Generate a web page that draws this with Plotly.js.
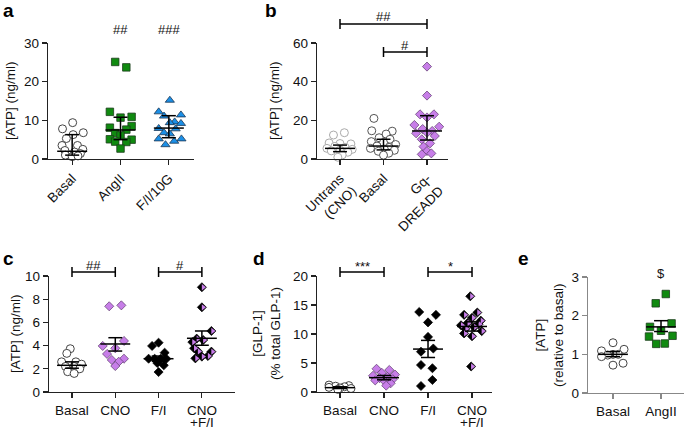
<!DOCTYPE html>
<html><head><meta charset="utf-8">
<script src="https://cdn.plot.ly/plotly-3.0.1.min.js"></script>
<style>body{margin:0;background:#fff}#chart{width:685px;height:431px}</style>
</head><body><div id="chart"></div>
<script>
// ---------- Panel a ----------
const aCats = ['Basal', 'AngII', 'F/I/10G'];
const aBasal = [9.4, 7.8, 6.8, 6.3, 5.3, 3.5, 3.5, 2.5, 2.2, 1.8, 1.4, 1.0, 0.6, 0.8];
const aBasalJit = [0.01, -0.2, 0.23, 0.02, -0.12, -0.21, 0.11, 0.22, -0.15, 0.05, 0.17, -0.14, 0.0, 0.12];
const aAngII = [25.1, 23.7, 12.2, 10.9, 10.7, 8.5, 8.1, 7.6, 6.7, 6.1, 5.1, 5.0, 4.5, 4.4, 2.7];
const aAngIIJit = [-0.11, 0.12, -0.22, 0.23, 0.0, 0.23, -0.22, 0.12, -0.11, 0.0, -0.22, 0.23, -0.11, 0.12, 0.0];
const aFI10G = [15.2, 12.2, 11.4, 11.1, 9.6, 9.4, 9.2, 7.9, 7.8, 6.8, 6.5, 5.2, 5.2, 4.6, 3.7];
const aFI10GJit = [0.02, -0.21, 0.25, -0.1, 0.12, 0.02, 0.25, -0.21, 0.14, -0.1, 0.02, -0.21, 0.26, 0.11, -0.07];
const aMid = [2.0, 7.5, 8.0];
const aHi = [6.3, 10.8, 11.2];
const aLo = [1.0, 5.0, 5.5];

// ---------- Panel b ----------
const bCats = ['Untrans<br>(CNO)', 'Basal', 'Gq-<br>DREADD'];
const bUntrans = [13.6, 12.4, 8.3, 8.0, 7.8, 6.5, 6.0, 5.5, 5.0, 4.6, 4.2, 3.5, 2.1, 0.9];
const bUntransJit = [0.1, -0.15, -0.25, 0.0, 0.25, -0.12, 0.12, -0.3, 0.28, 0.0, -0.2, 0.18, 0.05, -0.05];
const bBasal = [21.0, 14.6, 14.4, 12.9, 11.0, 10.2, 9.0, 8.5, 7.5, 6.7, 6.0, 5.5, 5.0, 4.5, 4.0, 3.0, 2.0];
const bBasalJit = [-0.22, -0.27, 0.2, 0.06, -0.1, 0.15, -0.28, 0.0, 0.28, -0.15, 0.13, -0.3, 0.02, 0.25, -0.12, 0.12, 0.0];
const bGq = [47.8, 32.8, 23.1, 23.1, 21.5, 17.6, 16.7, 15.5, 14.5, 13.6, 13.3, 11.9, 10.2, 8.1, 6.4, 4.1, 2.9, 2.4];
const bGqJit = [0.0, 0.0, -0.16, 0.16, 0.0, -0.29, 0.28, -0.1, 0.12, 0.0, -0.25, 0.18, -0.12, 0.07, -0.08, 0.0, 0.1, -0.12];
const bMid = [5.5, 6.7, 14.5];
const bHi = [7.2, 10.2, 22.4];
const bLo = [3.8, 4.7, 9.8];

// ---------- Panels c and d ----------
const cdCats = ['Basal', 'CNO', 'F/I', 'CNO'];
const cdCatSecondLine = '+F/I';
const cBasal = [3.73, 3.33, 2.6, 2.6, 2.4, 2.2, 2.2, 2.0, 1.75, 1.6];
const cBasalJit = [-0.04, -0.12, -0.24, 0.09, 0.22, -0.15, 0.05, 0.18, -0.1, 0.05];
const cCNO = [7.39, 7.47, 4.4, 3.97, 3.77, 3.28, 2.76, 2.87, 2.61, 2.24];
const cCNOJit = [-0.14, 0.14, 0.2, -0.29, 0.0, -0.19, -0.08, 0.2, 0.08, 0.0];
const cFI = [4.25, 3.97, 3.39, 2.87, 2.87, 2.87, 2.87, 2.5, 2.3, 1.72];
const cFIJit = [0.0, -0.15, 0.14, -0.23, -0.09, 0.05, 0.18, -0.03, 0.12, 0.0];
const cCNOFI = [9.03, 7.3, 5.26, 4.6, 4.48, 4.3, 3.77, 3.5, 3.48, 3.1, 3.05, 2.9];
const cCNOFIJit = [0.0, 0.0, 0.22, -0.12, 0.03, -0.22, -0.18, -0.09, 0.22, 0.14, 0.0, -0.15];
const cMean = [2.3, 4.14, 2.87, 4.63];
const cHi = [2.6, 4.68, 3.1, 5.26];
const cLo = [2.05, 3.53, 2.65, 4.03];

const dBasal = [1.2, 1.1, 1.0, 0.9, 0.8, 0.7, 0.6, 0.45];
const dBasalJit = [-0.25, 0.2, -0.1, 0.1, -0.25, 0.0, 0.25, -0.05];
const dCNO = [4.0, 3.8, 3.3, 3.0, 2.8, 2.6, 2.4, 2.2, 2.0, 1.8, 1.5, 1.1];
const dCNOJit = [-0.17, 0.12, -0.05, 0.25, -0.25, 0.08, -0.1, 0.2, -0.2, 0.02, 0.15, 0.05];
const dFI = [13.8, 13.3, 12.0, 9.5, 7.5, 6.95, 4.65, 4.1, 2.07, 1.03];
const dFIJit = [-0.2, 0.18, 0.0, 0.0, 0.12, -0.16, -0.16, 0.1, 0.1, -0.16];
const dCNOFI = [16.5, 13.7, 13.3, 12.8, 12.3, 11.9, 11.7, 11.5, 11.2, 10.9, 10.5, 10.1, 9.6, 4.4];
const dCNOFIJit = [-0.04, 0.12, -0.18, 0.0, 0.2, -0.1, 0.15, -0.25, 0.05, -0.15, 0.22, -0.18, 0.0, -0.02];
const dMean = [0.75, 2.47, 7.4, 11.3];
const dHi = [0.9, 2.85, 8.9, 12.1];
const dLo = [0.6, 2.1, 5.95, 10.5];

// ---------- Panel e ----------
const eCats = ['Basal', 'AngII'];
const eBasal = [1.30, 1.13, 1.09, 1.0, 1.0, 0.98, 0.94, 0.77, 0.72];
const eBasalJit = [0.0, 0.23, -0.24, 0.11, 0.0, -0.11, -0.24, 0.21, 0.0];
const eAngII = [2.56, 2.32, 1.80, 1.71, 1.61, 1.48, 1.46, 1.27, 1.28];
const eAngIIJit = [0.1, -0.11, 0.22, -0.23, 0.0, 0.24, -0.25, -0.1, 0.08];
const eMean = [1.0, 1.71];
const eHi = [1.07, 1.87];
const eLo = [0.94, 1.59];

// ---------- styles ----------
const PURPLE = '#c77ee8', GREEN = '#108a10', BLUE = '#1b8fe6';
const FONT = 'Liberation Sans, Arial, Helvetica, sans-serif';

function pts(ax, cat, vals, jit, marker, dx) {
  return {
    type: 'scatter', mode: 'markers', xaxis: 'x' + ax, yaxis: 'y' + ax,
    x: vals.map((v, i) => cat + jit[i] + (dx || 0)), y: vals,
    marker: marker, cliponaxis: false, hoverinfo: 'skip', showlegend: false
  };
}
function summary(ax, mid, hi, lo, hw, cw) {
  const x = [], y = [];
  mid.forEach((m, i) => {
    x.push(i - hw, i + hw, null, i, i, null, i - cw, i + cw, null, i - cw, i + cw, null);
    y.push(m, m, null, lo[i], hi[i], null, hi[i], hi[i], null, lo[i], lo[i], null);
  });
  return { type: 'scatter', mode: 'lines', xaxis: 'x' + ax, yaxis: 'y' + ax, x, y,
    line: { color: '#000', width: 1.5 }, cliponaxis: false, hoverinfo: 'skip', showlegend: false };
}
const openC = (c) => ({ symbol: 'circle', size: 8, color: '#fff', line: { color: c, width: 1 } });
const sq = { symbol: 'square', size: 7.5, color: GREEN, line: { color: '#1d3d1d', width: 0.8 } };
const tri = { symbol: 'triangle-up', size: 8, color: BLUE, line: { color: '#1c3550', width: 0.8 } };
const dia = { symbol: 'diamond', size: 7, color: PURPLE, line: { color: '#5a3a6a', width: 0.7 } };
const blk = { symbol: 'diamond', size: 7, color: '#000', line: { color: '#000', width: 0.7 } };
const halfP = { symbol: 'triangle-right', size: 5.5, color: PURPLE, line: { width: 0 } };

const traces = [
  pts('', 0, aBasal, aBasalJit, openC('#444')),
  pts('', 1, aAngII, aAngIIJit, sq),
  pts('', 2, aFI10G, aFI10GJit, tri),
  summary('', aMid, aHi, aLo, 0.31, 0.145),

  pts('2', 0, bUntrans, bUntransJit, openC('#aaa')),
  pts('2', 1, bBasal, bBasalJit, openC('#555')),
  pts('2', 2, bGq, bGqJit, dia),
  summary('2', bMid, bHi, bLo, 0.345, 0.16),

  pts('3', 0, cBasal, cBasalJit, openC('#444')),
  pts('3', 1, cCNO, cCNOJit, dia),
  pts('3', 2, cFI, cFIJit, blk),
  pts('3', 3, cCNOFI, cCNOFIJit, blk),
  pts('3', 3, cCNOFI, cCNOFIJit, halfP, 0.03),
  summary('3', cMean, cHi, cLo, 0.345, 0.16),

  pts('4', 0, dBasal, dBasalJit, openC('#444')),
  pts('4', 1, dCNO, dCNOJit, dia),
  pts('4', 2, dFI, dFIJit, blk),
  pts('4', 3, dCNOFI, dCNOFIJit, blk),
  pts('4', 3, dCNOFI, dCNOFIJit, halfP, 0.03),
  summary('4', dMean, dHi, dLo, 0.34, 0.16),

  pts('5', 0, eBasal, eBasalJit, openC('#444')),
  pts('5', 1, eAngII, eAngIIJit, sq),
  summary('5', eMean, eHi, eLo, 0.31, 0.145)
];

const W = 685, H = 431;
const px = (v) => v / W, py = (v) => 1 - v / H;

function yax(d0, d1, max, step, lc) {
  const tv = []; for (let v = 0; v <= max + 1e-9; v += step) tv.push(v);
  return { domain: [py(d1), py(d0)], range: [0, max], tickvals: tv, ticks: 'outside', ticklen: 5,
    tickwidth: 1.2, tickcolor: lc, showline: true, linecolor: lc, linewidth: 1.3, showgrid: false,
    zeroline: false, tickfont: { size: 13.5, color: '#111' }, fixedrange: true };
}
function xax(d0, d1, r0, r1, cats, ang, yid, lc) {
  return { domain: [px(d0), px(d1)], range: [r0, r1], tickvals: cats.map((c, i) => i), ticktext: cats,
    tickangle: ang, ticks: 'outside', ticklen: 5, tickwidth: 1.2, tickcolor: lc, showline: true,
    linecolor: lc, linewidth: 1.3, showgrid: false, zeroline: false, anchor: yid,
    tickfont: { size: 13.5, color: '#111' }, fixedrange: true };
}
const LC = '#222', LE = '#888';

function bracket(xref, x0, x1, ypx) {
  const y = py(ypx), h = 5 / H;
  const s = { type: 'line', xref: xref, yref: 'paper', line: { color: '#000', width: 1.5 } };
  return [
    Object.assign({}, s, { x0: x0, x1: x1, y0: y, y1: y }),
    Object.assign({}, s, { x0: x0, x1: x0, y0: y - h, y1: y + h }),
    Object.assign({}, s, { x0: x1, x1: x1, y0: y - h, y1: y + h })
  ];
}
function txt(xref, x, ypx, t, size) {
  return { xref: xref, yref: 'paper', x: x, y: py(ypx), text: t, showarrow: false,
    xanchor: 'center', yanchor: 'middle', font: { size: size || 13, color: '#111' } };
}
function label(xp, yp, t) {
  return { xref: 'paper', yref: 'paper', x: px(xp), y: py(yp), text: '<b>' + t + '</b>', showarrow: false,
    xanchor: 'left', yanchor: 'middle', font: { size: 19, color: '#000' } };
}
function ytitle(xp, yp, t) {
  return { xref: 'paper', yref: 'paper', x: px(xp), y: py(yp), text: t, textangle: -90, showarrow: false,
    xanchor: 'center', yanchor: 'middle', font: { size: 13.5, color: '#111' } };
}

const layout = {
  width: W, height: H, margin: { l: 0, r: 0, t: 0, b: 0 }, paper_bgcolor: '#fff', plot_bgcolor: '#fff',
  font: { family: FONT, color: '#111' }, showlegend: false,
  xaxis: xax(48, 194, -0.5, 2.52, aCats, -45, 'y', LC),
  yaxis: yax(43, 159, 30, 10, LC),
  xaxis2: xax(317, 448, -0.529, 2.483, bCats, -45, 'y2', LC),
  yaxis2: Object.assign(yax(43, 159, 60, 20, LC), { anchor: 'x2' }),
  xaxis3: xax(49, 235, -0.531, 3.765, cdCats, 0, 'y3', LC),
  yaxis3: Object.assign(yax(276, 392, 10, 2, LC), { anchor: 'x3' }),
  xaxis4: xax(317, 492, -0.523, 3.454, cdCats, 0, 'y4', LC),
  yaxis4: Object.assign(yax(276, 392, 20, 5, LC), { anchor: 'x4' }),
  xaxis5: xax(588, 684, -0.521, 1.479, eCats, 0, 'y5', LE),
  yaxis5: Object.assign(yax(277, 393, 3, 1, LE), { anchor: 'x5' }),
  shapes: [].concat(
    bracket('x2', 0, 2, 24), bracket('x2', 1, 2, 52),
    bracket('x3', 0, 1, 272), bracket('x3', 2, 3, 272),
    bracket('x4', 0, 1, 272), bracket('x4', 2, 3, 272)
  ),
  annotations: [
    label(1, 10, 'a'), label(263, 10, 'b'), label(1, 258, 'c'), label(251, 258, 'd'), label(516, 258, 'e'),
    txt('x', 1, 30, '##'), txt('x', 2, 30, '###'),
    txt('x2', 1, 17, '##'), txt('x2', 1.5, 45, '#'),
    txt('x3', 0.5, 265, '##'), txt('x3', 2.5, 265, '#'),
    txt('x4', 0.5, 266, '***'), txt('x4', 2.5, 266, '*'),
    txt('x5', 1, 273, '$'),
    txt('x3', 3, 422, cdCatSecondLine, 13.5),
    txt('x4', 3, 422, cdCatSecondLine, 13.5),
    ytitle(10, 101, '[ATP] (ng/ml)'),
    ytitle(274, 101, '[ATP] (ng/ml)'),
    ytitle(15, 334, '[ATP] (ng/ml)'),
    ytitle(266, 334, '[GLP-1]<br>(% total GLP-1)'),
    ytitle(549, 335, '[ATP]<br>(relative to basal)')
  ]
};

Plotly.newPlot('chart', traces, layout, { staticPlot: true, displayModeBar: false });
</script>
</body></html>
